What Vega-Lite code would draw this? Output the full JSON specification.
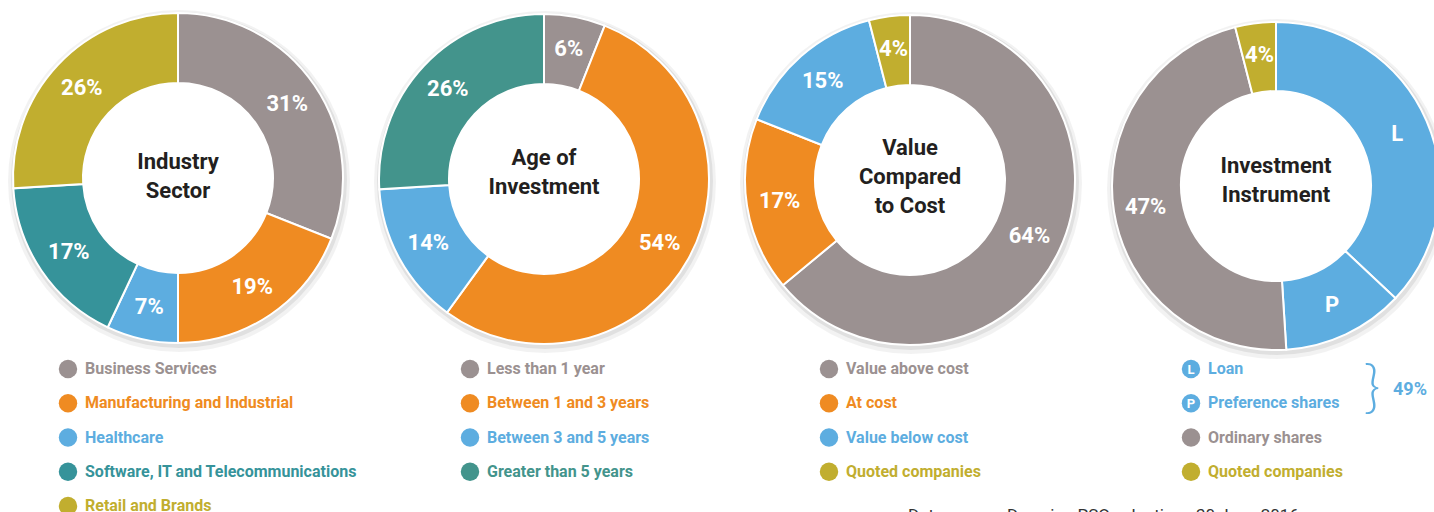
{
  "$schema": "https://vega.github.io/schema/vega-lite/v6.json",
  "width": 1434,
  "height": 512,
  "autosize": "none",
  "padding": 0,
  "background": "white",
  "config": {"view": {"stroke": null}},
  "datasets": {
    "slices": [
      {"chart": "Industry Sector", "category": "Business Services", "value": 31, "label": "31%", "rank": 1},
      {"chart": "Industry Sector", "category": "Manufacturing and Industrial", "value": 19, "label": "19%", "rank": 2},
      {"chart": "Industry Sector", "category": "Healthcare", "value": 7, "label": "7%", "rank": 3},
      {"chart": "Industry Sector", "category": "Software, IT and Telecommunications", "value": 17, "label": "17%", "rank": 4},
      {"chart": "Industry Sector", "category": "Retail and Brands", "value": 26, "label": "26%", "rank": 5},
      {"chart": "Age of Investment", "category": "Less than 1 year", "value": 6, "label": "6%", "rank": 1},
      {"chart": "Age of Investment", "category": "Between 1 and 3 years", "value": 54, "label": "54%", "rank": 2},
      {"chart": "Age of Investment", "category": "Between 3 and 5 years", "value": 14, "label": "14%", "rank": 3},
      {"chart": "Age of Investment", "category": "Greater than 5 years", "value": 26, "label": "26%", "rank": 4},
      {"chart": "Value Compared to Cost", "category": "Value above cost", "value": 64, "label": "64%", "rank": 1},
      {"chart": "Value Compared to Cost", "category": "At cost", "value": 17, "label": "17%", "rank": 2},
      {"chart": "Value Compared to Cost", "category": "Value below cost", "value": 15, "label": "15%", "rank": 3},
      {"chart": "Value Compared to Cost", "category": "Quoted companies", "value": 4, "label": "4%", "rank": 4},
      {"chart": "Investment Instrument", "category": "Loan", "value": 37, "label": "L", "rank": 1},
      {"chart": "Investment Instrument", "category": "Preference shares", "value": 12, "label": "P", "rank": 2},
      {"chart": "Investment Instrument", "category": "Ordinary shares", "value": 47, "label": "47%", "rank": 3},
      {"chart": "Investment Instrument", "category": "Quoted companies", "value": 4, "label": "4%", "rank": 4}
    ],
    "titles": [
      {"chart": "Industry Sector", "title": "Industry|Sector"},
      {"chart": "Age of Investment", "title": "Age of|Investment"},
      {"chart": "Value Compared to Cost", "title": "Value|Compared|to Cost"},
      {"chart": "Investment Instrument", "title": "Investment|Instrument"}
    ],
    "notes": [
      {"chart": "Investment Instrument", "kind": "brace", "text": "}"},
      {"chart": "Investment Instrument", "kind": "total", "text": "49%"},
      {"chart": "Value Compared to Cost", "kind": "source", "text": "Data source: Downing PSO valuations 30 June 2016"}
    ]
  },
  "data": {"name": "slices"},
  "layer": [
    {
      "data": {"name": "titles"},
      "transform": [{"filter": "datum.chart === 'Industry Sector'"}],
      "encoding": {"x": {"field": "chart", "type": "nominal", "scale": {"type": "point", "padding": 0, "domain": ["Industry Sector", "Age of Investment", "Value Compared to Cost", "Investment Instrument"], "range": [178, 1276]}, "axis": null}},
      "layer": [
        {"mark": {"type": "arc", "innerRadius": 150, "outerRadius": 171, "color": "#000000", "opacity": 0.05, "xOffset": 1, "yOffset": 3}, "encoding": {"y": {"value": 178}}},
        {"mark": {"type": "arc", "innerRadius": 150, "outerRadius": 168, "color": "#000000", "opacity": 0.07, "xOffset": 1, "yOffset": 2}, "encoding": {"y": {"value": 178}}},
        {"mark": {"type": "text", "align": "center", "baseline": "middle", "font": "Roboto", "fontWeight": "bold", "fontSize": 22, "lineBreak": "|", "lineHeight": 29, "color": "#231f20"},
         "encoding": {"y": {"value": 162}, "text": {"field": "title"}}}
      ]
    },
    {
      "data": {"name": "titles"},
      "transform": [{"filter": "datum.chart === 'Age of Investment'"}],
      "encoding": {"x": {"field": "chart", "type": "nominal", "axis": null}},
      "layer": [
        {"mark": {"type": "arc", "innerRadius": 150, "outerRadius": 171, "color": "#000000", "opacity": 0.05, "xOffset": 1, "yOffset": 3}, "encoding": {"y": {"value": 179}}},
        {"mark": {"type": "arc", "innerRadius": 150, "outerRadius": 168, "color": "#000000", "opacity": 0.07, "xOffset": 1, "yOffset": 2}, "encoding": {"y": {"value": 179}}},
        {"mark": {"type": "text", "align": "center", "baseline": "middle", "font": "Roboto", "fontWeight": "bold", "fontSize": 22, "lineBreak": "|", "lineHeight": 29, "color": "#231f20"},
         "encoding": {"y": {"value": 158}, "text": {"field": "title"}}}
      ]
    },
    {
      "data": {"name": "titles"},
      "transform": [{"filter": "datum.chart === 'Value Compared to Cost'"}],
      "encoding": {"x": {"field": "chart", "type": "nominal", "axis": null}},
      "layer": [
        {"mark": {"type": "arc", "innerRadius": 150, "outerRadius": 171, "color": "#000000", "opacity": 0.05, "xOffset": 1, "yOffset": 3}, "encoding": {"y": {"value": 180}}},
        {"mark": {"type": "arc", "innerRadius": 150, "outerRadius": 168, "color": "#000000", "opacity": 0.07, "xOffset": 1, "yOffset": 2}, "encoding": {"y": {"value": 180}}},
        {"mark": {"type": "text", "align": "center", "baseline": "middle", "font": "Roboto", "fontWeight": "bold", "fontSize": 22, "lineBreak": "|", "lineHeight": 29, "color": "#231f20"},
         "encoding": {"y": {"value": 148}, "text": {"field": "title"}}}
      ]
    },
    {
      "data": {"name": "titles"},
      "transform": [{"filter": "datum.chart === 'Investment Instrument'"}],
      "encoding": {"x": {"field": "chart", "type": "nominal", "axis": null}},
      "layer": [
        {"mark": {"type": "arc", "innerRadius": 150, "outerRadius": 170, "color": "#000000", "opacity": 0.05, "xOffset": 1, "yOffset": 3}, "encoding": {"y": {"value": 186}}},
        {"mark": {"type": "arc", "innerRadius": 150, "outerRadius": 167, "color": "#000000", "opacity": 0.07, "xOffset": 1, "yOffset": 2}, "encoding": {"y": {"value": 186}}},
        {"mark": {"type": "text", "align": "center", "baseline": "middle", "font": "Roboto", "fontWeight": "bold", "fontSize": 22, "lineBreak": "|", "lineHeight": 29, "color": "#231f20"},
         "encoding": {"y": {"value": 166}, "text": {"field": "title"}}}
      ]
    },
    {
      "transform": [{"filter": "datum.chart === 'Industry Sector'"}],
      "encoding": {
        "x": {"field": "chart", "type": "nominal", "axis": null},
        "color": {"field": "category", "type": "nominal", "legend": null, "scale": {
          "domain": ["Business Services", "Manufacturing and Industrial", "Healthcare", "Software, IT and Telecommunications", "Retail and Brands", "Less than 1 year", "Between 1 and 3 years", "Between 3 and 5 years", "Greater than 5 years", "Value above cost", "At cost", "Value below cost", "Quoted companies", "Loan", "Preference shares", "Ordinary shares"],
          "range": ["#9b9191", "#ef8b22", "#5dade0", "#36939a", "#c1ae2f", "#9b9191", "#ef8b22", "#5dade0", "#43948c", "#9b9191", "#ef8b22", "#5dade0", "#c1ae2f", "#5dade0", "#5dade0", "#9b9191"]}}
      },
      "layer": [
        {"mark": {"type": "arc", "innerRadius": 95, "outerRadius": 165, "stroke": "white", "strokeWidth": 2},
         "encoding": {"y": {"value": 178}, "theta": {"field": "value", "type": "quantitative", "stack": true}, "order": {"field": "rank", "type": "quantitative"}}},
        {"mark": {"type": "text", "radius": 132, "font": "Roboto", "fontWeight": "bold", "fontSize": 22, "align": "center", "baseline": "middle"},
         "encoding": {"y": {"value": 178}, "theta": {"field": "value", "type": "quantitative", "stack": true}, "order": {"field": "rank", "type": "quantitative"}, "detail": {"field": "category"}, "text": {"field": "label"}, "color": {"value": "white"}}},
        {"mark": {"type": "point", "filled": true, "opacity": 1, "size": 340, "xOffset": -110},
         "encoding": {"y": {"field": "rank", "type": "quantitative", "scale": {"domain": [1, 5], "range": [369, 506]}, "axis": null}}},
        {"mark": {"type": "text", "align": "left", "baseline": "middle", "font": "Roboto", "fontWeight": "bold", "fontSize": 16, "xOffset": -93},
         "encoding": {"y": {"field": "rank", "type": "quantitative", "axis": null}, "text": {"field": "category"}}}
      ]
    },
    {
      "transform": [{"filter": "datum.chart === 'Age of Investment'"}],
      "encoding": {
        "x": {"field": "chart", "type": "nominal", "axis": null},
        "color": {"field": "category", "type": "nominal", "legend": null}
      },
      "layer": [
        {"mark": {"type": "arc", "innerRadius": 95, "outerRadius": 165, "stroke": "white", "strokeWidth": 2},
         "encoding": {"y": {"value": 179}, "theta": {"field": "value", "type": "quantitative", "stack": true}, "order": {"field": "rank", "type": "quantitative"}}},
        {"mark": {"type": "text", "radius": 132, "font": "Roboto", "fontWeight": "bold", "fontSize": 22, "align": "center", "baseline": "middle"},
         "encoding": {"y": {"value": 179}, "theta": {"field": "value", "type": "quantitative", "stack": true}, "order": {"field": "rank", "type": "quantitative"}, "detail": {"field": "category"}, "text": {"field": "label"}, "color": {"value": "white"}}},
        {"mark": {"type": "point", "filled": true, "opacity": 1, "size": 340, "xOffset": -74},
         "encoding": {"y": {"field": "rank", "type": "quantitative", "axis": null}}},
        {"mark": {"type": "text", "align": "left", "baseline": "middle", "font": "Roboto", "fontWeight": "bold", "fontSize": 16, "xOffset": -57},
         "encoding": {"y": {"field": "rank", "type": "quantitative", "axis": null}, "text": {"field": "category"}}}
      ]
    },
    {
      "transform": [{"filter": "datum.chart === 'Value Compared to Cost'"}],
      "encoding": {
        "x": {"field": "chart", "type": "nominal", "axis": null},
        "color": {"field": "category", "type": "nominal", "legend": null}
      },
      "layer": [
        {"mark": {"type": "arc", "innerRadius": 95, "outerRadius": 165, "stroke": "white", "strokeWidth": 2},
         "encoding": {"y": {"value": 180}, "theta": {"field": "value", "type": "quantitative", "stack": true}, "order": {"field": "rank", "type": "quantitative"}}},
        {"mark": {"type": "text", "radius": 132, "font": "Roboto", "fontWeight": "bold", "fontSize": 22, "align": "center", "baseline": "middle"},
         "encoding": {"y": {"value": 180}, "theta": {"field": "value", "type": "quantitative", "stack": true}, "order": {"field": "rank", "type": "quantitative"}, "detail": {"field": "category"}, "text": {"field": "label"}, "color": {"value": "white"}}},
        {"mark": {"type": "point", "filled": true, "opacity": 1, "size": 340, "xOffset": -81},
         "encoding": {"y": {"field": "rank", "type": "quantitative", "axis": null}}},
        {"mark": {"type": "text", "align": "left", "baseline": "middle", "font": "Roboto", "fontWeight": "bold", "fontSize": 16, "xOffset": -64},
         "encoding": {"y": {"field": "rank", "type": "quantitative", "axis": null}, "text": {"field": "category"}}}
      ]
    },
    {
      "transform": [{"filter": "datum.chart === 'Investment Instrument'"}],
      "encoding": {
        "x": {"field": "chart", "type": "nominal", "axis": null},
        "color": {"field": "category", "type": "nominal", "legend": null}
      },
      "layer": [
        {"mark": {"type": "arc", "innerRadius": 95, "outerRadius": 164, "stroke": "white", "strokeWidth": 2},
         "encoding": {"y": {"value": 186}, "theta": {"field": "value", "type": "quantitative", "stack": true}, "order": {"field": "rank", "type": "quantitative"}}},
        {"mark": {"type": "text", "radius": 132, "font": "Roboto", "fontWeight": "bold", "fontSize": 22, "align": "center", "baseline": "middle"},
         "encoding": {"y": {"value": 186}, "theta": {"field": "value", "type": "quantitative", "stack": true}, "order": {"field": "rank", "type": "quantitative"}, "detail": {"field": "category"}, "text": {"field": "label"}, "color": {"value": "white"}}},
        {"mark": {"type": "point", "filled": true, "opacity": 1, "size": 340, "xOffset": -85},
         "encoding": {"y": {"field": "rank", "type": "quantitative", "axis": null}}},
        {"transform": [{"filter": "datum.rank <= 2"}],
         "mark": {"type": "text", "align": "center", "baseline": "middle", "font": "Roboto", "fontWeight": "bold", "fontSize": 13, "xOffset": -85, "yOffset": 1},
         "encoding": {"y": {"field": "rank", "type": "quantitative", "axis": null}, "text": {"field": "label"}, "color": {"value": "white"}}},
        {"mark": {"type": "text", "align": "left", "baseline": "middle", "font": "Roboto", "fontWeight": "bold", "fontSize": 16, "xOffset": -68},
         "encoding": {"y": {"field": "rank", "type": "quantitative", "axis": null}, "text": {"field": "category"}}}
      ]
    },
    {
      "data": {"name": "notes"},
      "transform": [{"filter": "datum.kind === 'brace'"}],
      "mark": {"type": "text", "align": "center", "baseline": "middle", "font": "Lato", "fontWeight": 300, "fontSize": 58, "color": "#5dade0", "xOffset": 96},
      "encoding": {"x": {"field": "chart", "type": "nominal", "axis": null}, "y": {"value": 389}, "text": {"field": "text"}}
    },
    {
      "data": {"name": "notes"},
      "transform": [{"filter": "datum.kind === 'total'"}],
      "mark": {"type": "text", "align": "left", "baseline": "middle", "font": "Roboto", "fontWeight": "bold", "fontSize": 18, "color": "#5dade0", "xOffset": 117},
      "encoding": {"x": {"field": "chart", "type": "nominal", "axis": null}, "y": {"value": 390}, "text": {"field": "text"}}
    },
    {
      "data": {"name": "notes"},
      "transform": [{"filter": "datum.kind === 'source'"}],
      "mark": {"type": "text", "align": "left", "baseline": "alphabetic", "font": "Roboto", "fontSize": 17, "color": "#333333", "xOffset": -2},
      "encoding": {"x": {"field": "chart", "type": "nominal", "axis": null}, "y": {"value": 521}, "text": {"field": "text"}}
    }
  ]
}
